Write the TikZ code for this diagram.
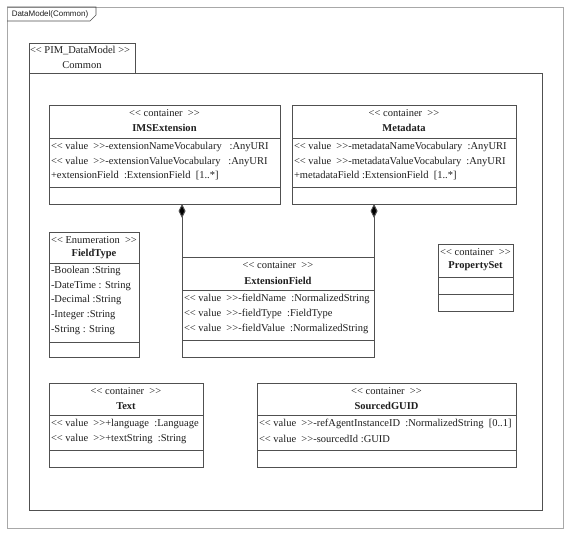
\documentclass[tikz,border=0pt]{standalone}
\usepackage{fontspec}
\setmainfont{Liberation Serif}[Ligatures=TeXOff]
\newfontfamily\tabfont{Liberation Sans}
\usetikzlibrary{arrows.meta}
\definecolor{linec}{HTML}{505050}
\definecolor{framec}{HTML}{A8A8A8}
\definecolor{txtc}{HTML}{1E1E1E}
\newcommand\stL{\textless\kern0pt\textless}
\newcommand\stR{\textgreater\kern0pt\textgreater}
\begin{document}
\begin{tikzpicture}[x=1pt,y=-1pt,
  every node/.style={inner sep=0pt, outer sep=0pt, text=txtc, font=\fontsize{10.5}{12}\selectfont},
  cls/.style={draw=linec, line width=0.9pt, fill=white, anchor=north west},
  sep/.style={draw=linec, line width=0.9pt},
  hdr/.style={anchor=center},
  nm/.style={anchor=center, font=\fontsize{10.5}{12}\selectfont\bfseries},
  attr/.style={anchor=west},
  comp/.style={draw=linec, line width=0.9pt, -{Diamond[length=14pt,width=7pt,fill=black]}},
]
\useasboundingbox (0,0) rectangle (570,535);
\fill[white] (0,0) rectangle (570,535);
% outer frame
\node[draw=framec, line width=0.8pt, anchor=north west, minimum width=556pt, minimum height=521pt] (frame) at (7,7) {};
\draw[linec, line width=0.7pt] (frame.north west) -- (96,7) -- (96,15) -- (90,21) -- (7,21);
\node[font=\tabfont\fontsize{8}{10}\selectfont] (framelbl) at (50,14) {DataModel(Common)};
% package
\node[draw=linec, line width=0.9pt, anchor=north west, minimum width=106pt, minimum height=30pt] (pkgtab) at (29,43) {};
\node[draw=linec, line width=0.9pt, anchor=north west, minimum width=513pt, minimum height=437pt] (pkg) at (29,73) {};
\node[anchor=west] (pkgst) at (30,50.5) {\stL\ PIM\_DataModel \stR};
\node (pkgname) at (82,65.5) {Common};

% IMSExtension
\node[cls, minimum width=231pt, minimum height=99pt] (ims) at (49,105) {};
\draw[sep] (ims.west |- 0,138) -- (ims.east |- 0,138);
\draw[sep] (ims.west |- 0,187) -- (ims.east |- 0,187);
\node[hdr] (imsst) at (164.5,113) {\stL\ container\ \ \stR};
\node[nm] (imsnm) at (164.5,128) {IMSExtension};
\node[attr] (imsa1) at (51,147) {\stL\ value\ \ \stR-extensionNameVocabulary\ \ \ :AnyURI};
\node[attr] (imsa2) at (51,161.5) {\stL\ value\ \ \stR-extensionValueVocabulary\ \ \ :AnyURI};
\node[attr] (imsa3) at (51,176) {+extensionField\ \ :ExtensionField\ \ [1..*]};

% Metadata
\node[cls, minimum width=224pt, minimum height=99pt] (meta) at (292,105) {};
\draw[sep] (meta.west |- 0,138) -- (meta.east |- 0,138);
\draw[sep] (meta.west |- 0,187) -- (meta.east |- 0,187);
\node[hdr] (metast) at (404,113) {\stL\ container\ \ \stR};
\node[nm] (metanm) at (404,128) {Metadata};
\node[attr] (metaa1) at (294,147) {\stL\ value\ \ \stR-metadataNameVocabulary\ \ :AnyURI};
\node[attr] (metaa2) at (294,161.5) {\stL\ value\ \ \stR-metadataValueVocabulary\ \ :AnyURI};
\node[attr] (metaa3) at (294,176) {+metadataField\ :ExtensionField\ \ [1..*]};

% ExtensionField
\node[cls, minimum width=192pt, minimum height=100pt] (extf) at (182,257) {};
\draw[sep] (extf.west |- 0,290) -- (extf.east |- 0,290);
\draw[sep] (extf.west |- 0,340) -- (extf.east |- 0,340);
\node[hdr] (extfst) at (278,265) {\stL\ container\ \ \stR};
\node[nm] (extfnm) at (278,281) {ExtensionField};
\node[attr] (extfa1) at (184,299) {\stL\ value\ \ \stR-fieldName\ \ :NormalizedString};
\node[attr] (extfa2) at (184,314) {\stL\ value\ \ \stR-fieldType\ \ :FieldType};
\node[attr] (extfa3) at (184,329) {\stL\ value\ \ \stR-fieldValue\ \ :NormalizedString};

% compositions
\draw[comp] (extf.north west) -- (extf.north west |- ims.south);
\draw[comp] (extf.north east) -- (extf.north east |- meta.south);

% FieldType
\node[cls, minimum width=90pt, minimum height=125pt] (ftype) at (49,232) {};
\draw[sep] (ftype.west |- 0,263) -- (ftype.east |- 0,263);
\draw[sep] (ftype.west |- 0,342) -- (ftype.east |- 0,342);
\node[hdr] (ftypest) at (94,240) {\stL\ Enumeration\ \ \stR};
\node[nm] (ftypenm) at (94,254) {FieldType};
\node[attr] (ftypea1) at (51,271) {-Boolean :String};
\node[attr] (ftypea2) at (51,286) {-DateTime : String};
\node[attr] (ftypea3) at (51,300) {-Decimal :String};
\node[attr] (ftypea4) at (51,315) {-Integer :String};
\node[attr] (ftypea5) at (51,330) {-String : String};

% PropertySet
\node[cls, minimum width=75pt, minimum height=67pt] (pset) at (438,244) {};
\draw[sep] (pset.west |- 0,277) -- (pset.east |- 0,277);
\draw[sep] (pset.west |- 0,294) -- (pset.east |- 0,294);
\node[hdr] (psetst) at (475.5,252) {\stL\ container\ \ \stR};
\node[nm] (psetnm) at (475.5,266) {PropertySet};

% Text
\node[cls, minimum width=154pt, minimum height=84pt] (text) at (49,383) {};
\draw[sep] (text.west |- 0,415) -- (text.east |- 0,415);
\draw[sep] (text.west |- 0,450) -- (text.east |- 0,450);
\node[hdr] (textst) at (126,391) {\stL\ container\ \ \stR};
\node[nm] (textnm) at (126,406) {Text};
\node[attr] (texta1) at (51,424) {\stL\ value\ \ \stR+language\ \ :Language};
\node[attr] (texta2) at (51,439) {\stL\ value\ \ \stR+textString\ \ :String};

% SourcedGUID
\node[cls, minimum width=259pt, minimum height=84pt] (sguid) at (257,383) {};
\draw[sep] (sguid.west |- 0,415) -- (sguid.east |- 0,415);
\draw[sep] (sguid.west |- 0,450) -- (sguid.east |- 0,450);
\node[hdr] (sguidst) at (386.5,391) {\stL\ container\ \ \stR};
\node[nm] (sguidnm) at (386.5,406) {SourcedGUID};
\node[attr] (sguida1) at (259,424) {\stL\ value\ \ \stR-refAgentInstanceID\ \ :NormalizedString\ \ [0..1]};
\node[attr] (sguida2) at (259,439) {\stL\ value\ \ \stR-sourcedId\ :GUID};
\end{tikzpicture}
\end{document}
